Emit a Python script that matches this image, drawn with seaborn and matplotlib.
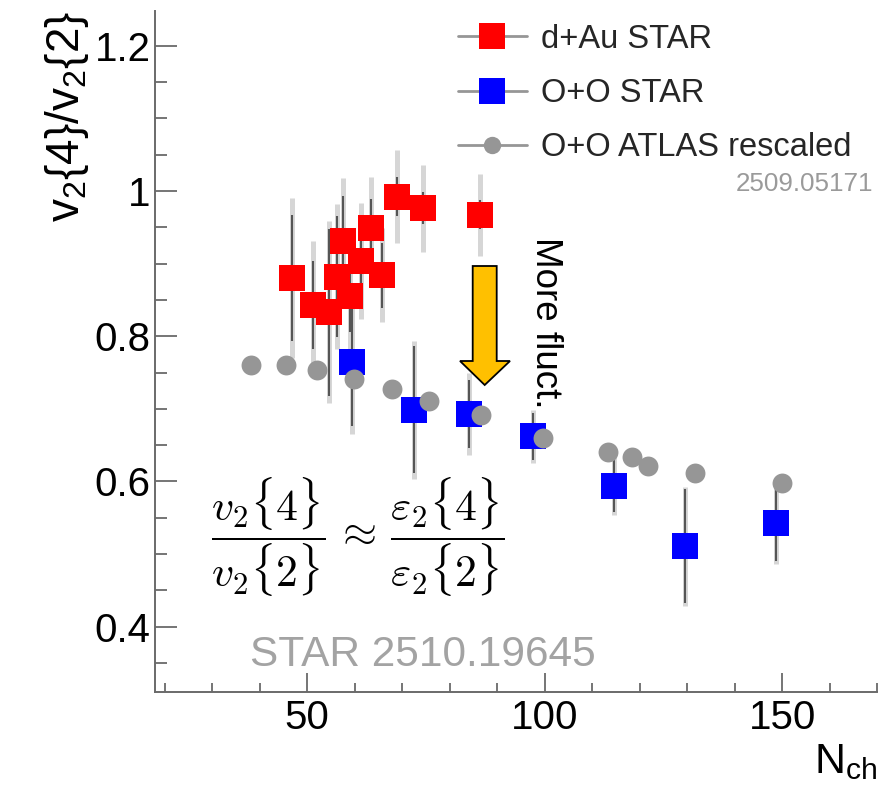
import numpy as np
import pandas as pd
import matplotlib
matplotlib.use("Agg")
import matplotlib.pyplot as plt
import seaborn as sns
from matplotlib.lines import Line2D
from matplotlib.patches import Polygon
from matplotlib.ticker import MultipleLocator

# ---------------- data ----------------
dAu_x = [46.8, 51.3, 54.6, 56.3, 57.5, 59.1, 61.4, 63.5, 65.8, 69.0, 74.4, 86.3]
dAu_y = [0.880, 0.843, 0.833, 0.882, 0.931, 0.856, 0.904, 0.949, 0.884, 0.992, 0.976, 0.967]
dAu_stat = [0.087, 0.060, 0.115, 0.083, 0.062, 0.050, 0.050, 0.040, 0.045, 0.027, 0.022, 0.020]
dAu_sys = [0.110, 0.088, 0.125, 0.100, 0.087, 0.080, 0.080, 0.070, 0.065, 0.064, 0.060, 0.056]

OO_x = [59.4, 72.5, 84.0, 97.5, 114.6, 129.6, 148.7]
OO_y = [0.765, 0.699, 0.693, 0.662, 0.594, 0.511, 0.543]
OO_stat = [0.088, 0.087, 0.047, 0.032, 0.036, 0.079, 0.053]
OO_sys = [0.100, 0.095, 0.056, 0.036, 0.040, 0.082, 0.057]

ATLAS_x = [38.1, 45.6, 52.0, 59.8, 67.8, 75.7, 86.5, 99.6, 113.4, 118.3, 121.8, 131.7, 150.0]
ATLAS_y = [0.761, 0.761, 0.754, 0.741, 0.727, 0.711, 0.692, 0.660, 0.640, 0.633, 0.621, 0.611, 0.598]

series_labels = ["d+Au STAR", "O+O STAR", "O+O ATLAS rescaled"]
xtick_values = [50, 100, 150]
xtick_labels = ["50", "100", "150"]
ytick_values = [0.4, 0.6, 0.8, 1.0, 1.2]
ytick_labels = ["0.4", "0.6", "0.8", "1", "1.2"]

# ---------------- style ----------------
sns.set_theme(style="white")
plt.rcParams["font.family"] = ["Liberation Sans", "DejaVu Sans"]
plt.rcParams["mathtext.fontset"] = "custom"
plt.rcParams["mathtext.rm"] = "Liberation Sans"
plt.rcParams["mathtext.it"] = "Liberation Sans:italic"
plt.rcParams["mathtext.bf"] = "Liberation Sans:bold"

W, H = 894, 801
fig = plt.figure(figsize=(W / 100, H / 100), dpi=100)
fig.patch.set_facecolor("white")

def fx(px):
    return px / W

def fy(py):
    return 1 - py / H

ax = fig.add_axes([fx(155), fy(691.7), (877.3 - 155) / W, (691.7 - 11) / H])
ax.set_facecolor("white")

RED = "#ff0000"
BLUE = "#0000ff"
GREY = "#969696"
SYS = "#d6d6d6"
STAT = "#555555"
AXC = "#6a6a6a"

dAu = pd.DataFrame({"x": dAu_x, "y": dAu_y, "stat": dAu_stat, "sys": dAu_sys})
OO = pd.DataFrame({"x": OO_x, "y": OO_y, "stat": OO_stat, "sys": OO_sys})
AT = pd.DataFrame({"x": ATLAS_x, "y": ATLAS_y})

# systematic (light, wide) and statistical (dark, thin) bars
for df in (dAu, OO):
    ax.errorbar(df["x"], df["y"], yerr=df["sys"], fmt="none", ecolor=SYS,
                elinewidth=3.6, capsize=0, zorder=1)
for df in (dAu, OO):
    ax.errorbar(df["x"], df["y"], yerr=df["stat"], fmt="none", ecolor=STAT,
                elinewidth=1.5, capsize=0, zorder=2)

sns.scatterplot(data=OO, x="x", y="y", marker="s", s=350, color=BLUE,
                linewidth=0, ax=ax, zorder=3, legend=False)
sns.scatterplot(data=dAu, x="x", y="y", marker="s", s=350, color=RED,
                linewidth=0, ax=ax, zorder=4, legend=False)
sns.scatterplot(data=AT, x="x", y="y", marker="o", s=205, color=GREY,
                linewidth=0, ax=ax, zorder=5, legend=False)

# ---------------- axes ----------------
ax.set_xlim(18, 170)
ax.set_ylim(0.3105, 1.2478)
ax.set_xticks(xtick_values)
ax.set_xticklabels(xtick_labels)
ax.xaxis.set_minor_locator(MultipleLocator(10))
ax.set_yticks(ytick_values)
ax.set_yticklabels(ytick_labels)
ax.yaxis.set_minor_locator(MultipleLocator(0.05))

for s in ("top", "right"):
    ax.spines[s].set_visible(False)
for s in ("left", "bottom"):
    ax.spines[s].set_color(AXC)
    ax.spines[s].set_linewidth(1.4)

ax.tick_params(which="both", direction="in", bottom=True, left=True, top=False,
               right=False, color=AXC, width=1.3)
ax.tick_params(axis="x", which="major", length=13.7, labelsize=29, pad=5,
               labelcolor="black")
ax.tick_params(axis="x", which="minor", length=6.5)
ax.tick_params(axis="y", which="major", length=15.8, labelsize=29, pad=3.3,
               labelcolor="black")
ax.tick_params(axis="y", which="minor", length=8.6)

ax.set_ylabel(r"v$_\mathregular{2}${4}/v$_\mathregular{2}${2}", fontsize=33,
              loc="top", color="black")
ax.yaxis.set_label_coords((91 - 155) / (877.3 - 155), 1.0)
ax.set_xlabel(r"N$_\mathregular{ch}$", fontsize=31, loc="right", color="black")
ax.xaxis.label.set_va("baseline")
ax.xaxis.set_label_coords(1.0, -(773 - 691.7) / (691.7 - 11))

# ---------------- legend ----------------
handles = [
    Line2D([], [], color=GREY, lw=2, marker="s", markersize=19,
           markerfacecolor=RED, markeredgewidth=0),
    Line2D([], [], color=GREY, lw=2, marker="s", markersize=19,
           markerfacecolor=BLUE, markeredgewidth=0),
    Line2D([], [], color=GREY, lw=2, marker="o", markersize=12.5,
           markerfacecolor=GREY, markeredgewidth=0),
]
leg = ax.legend(handles=handles, labels=series_labels, loc="center left",
                bbox_to_anchor=(fx(458), fy(93.5)), bbox_transform=fig.transFigure,
                frameon=False, fontsize=23.5, handlelength=2.1,
                handletextpad=0.45, labelspacing=0.72, borderpad=0,
                borderaxespad=0)

fig.text(fx(873), fy(184), "2509.05171", ha="right", va="center",
         fontsize=18.7, color="#9a9a9a")

# ---------------- annotations ----------------
fig.text(fx(211), fy(536.7),
         r"$\dfrac{v_2\{4\}}{v_2\{2\}}\,\approx\,\dfrac{\varepsilon_2\{4\}}{\varepsilon_2\{2\}}$",
         ha="left", va="center", fontsize=31.5, color="black", math_fontfamily="cm")

fig.text(fx(249.6), fy(666), "STAR 2510.19645", ha="left", va="baseline",
         fontsize=30.5, color="#a3a3a3")

fig.text(fx(545), fy(323), "More fluct.", rotation=-90, ha="center", va="center",
         fontsize=26.5, color="black")

arrow_px = [(472.7, 266), (496.7, 266), (496.7, 361), (510, 361), (484.7, 385),
            (460, 361), (472.7, 361)]
arrow = Polygon([(fx(a), fy(b)) for a, b in arrow_px], closed=True,
                transform=fig.transFigure, facecolor="#ffc000",
                edgecolor="black", linewidth=1.3, zorder=10)
fig.patches.append(arrow)

fig.savefig("out.png", dpi=100, facecolor="white")
